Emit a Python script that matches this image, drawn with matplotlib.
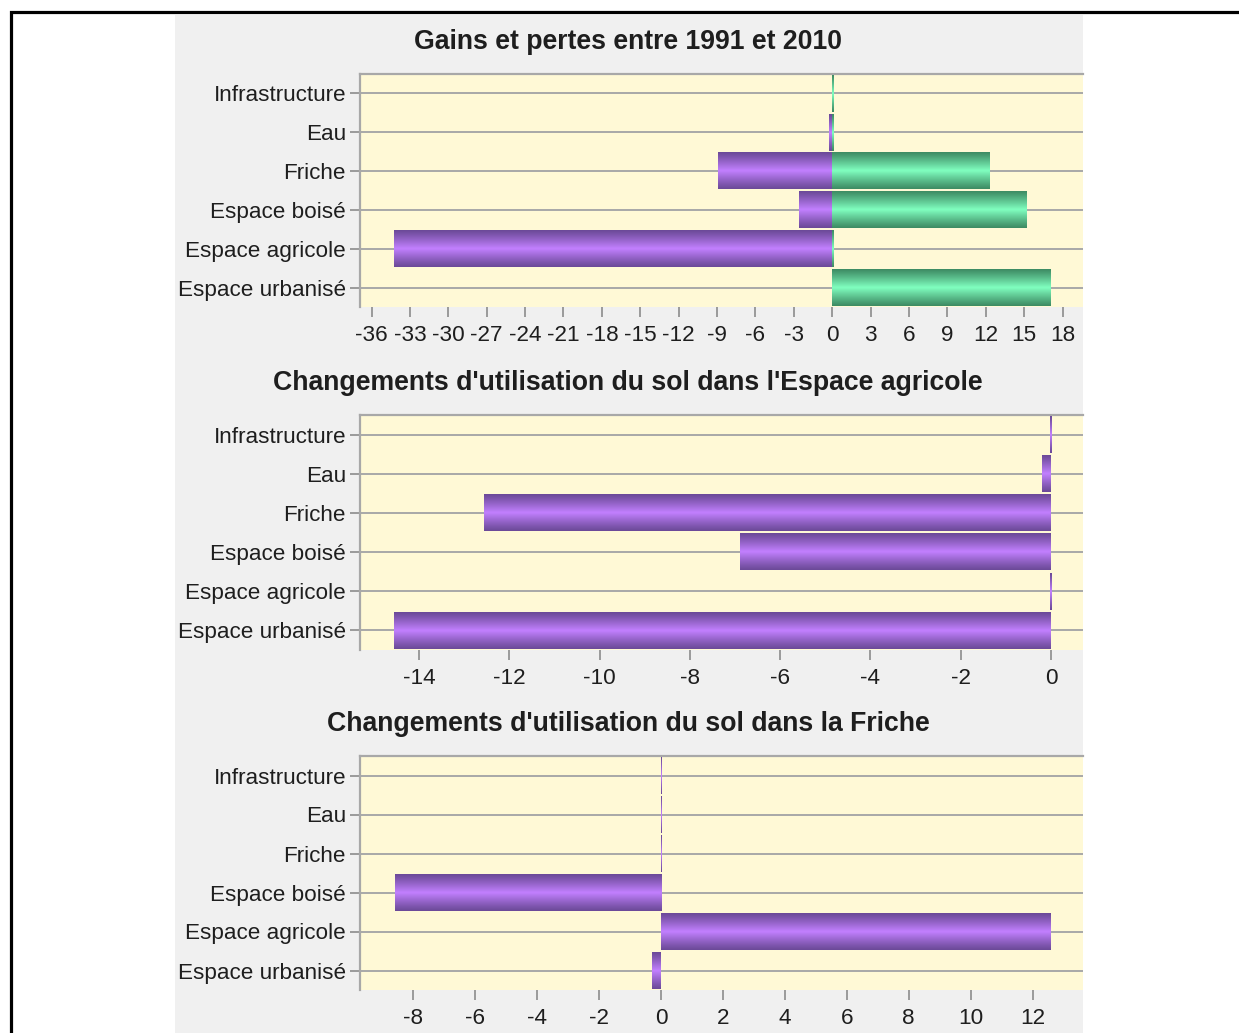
import numpy as np
import matplotlib
matplotlib.use("Agg")
import matplotlib.pyplot as plt
from matplotlib.patches import Rectangle

plt.rcParams['font.family'] = ['Liberation Sans', 'DejaVu Sans']

categories = ["Infrastructure", "Eau", "Friche", "Espace boisé",
              "Espace agricole", "Espace urbanisé"]

# Chart 1: gains and losses 1991-2010
gains_1991_2010 = [0.12, 0.08, 12.3, 15.2, 0.1, 17.1]
losses_1991_2010 = [0.0, -0.25, -8.9, -2.6, -34.25, -0.03]

# Chart 2: changes within Espace agricole
agricole_changes = [-0.03, -0.19, -12.56, -6.89, -0.03, -14.55]

# Chart 3: changes within Friche
friche_changes = [0.03, 0.03, 0.03, -8.6, 12.57, -0.28]

titles = ["Gains et pertes entre 1991 et 2010",
          "Changements d'utilisation du sol dans l'Espace agricole",
          "Changements d'utilisation du sol dans la Friche"]
xticks_list = [list(range(-36, 19, 3)), list(range(-14, 1, 2)), list(range(-8, 13, 2))]
xlims = [(-36.9, 19.6), (-15.31, 0.71), (-9.72, 13.63)]

W, H = 1239, 1033
fig = plt.figure(figsize=(W / 100, H / 100), dpi=100, facecolor='white')

# grey panel and black frame
fig.add_artist(Rectangle((175 / W, 0), (1083 - 175) / W, (H - 15) / H,
                         transform=fig.transFigure, facecolor='#f0f0f0',
                         edgecolor='none', zorder=-5))
fig.add_artist(Rectangle((10.5 / W, -0.2), 1.5, (H - 12) / H + 0.2,
                         transform=fig.transFigure, facecolor='none',
                         edgecolor='black', lw=2.3, zorder=-4))

PURPLE = (np.array([0x6c, 0x4a, 0x98]) / 255, np.array([0xc2, 0x80, 0xff]) / 255)
GREEN = (np.array([0x3e, 0x8c, 0x64]) / 255, np.array([0x80, 0xff, 0xc0]) / 255)


def gradient(cols, n=64):
    dark, bright = cols
    t = np.linspace(0, 1, n)
    f = (1 - np.abs(2 * t - 1)) ** 1.1
    g = dark[None, :] + (bright - dark)[None, :] * f[:, None]
    return g[:, None, :]


def draw_bars(ax, values, cols):
    y = np.arange(len(categories))
    bars = ax.barh(y, values, height=0.94, facecolor='none',
                   edgecolor='none', lw=0, zorder=4)
    img = gradient(cols)
    for p in bars.patches:
        x0, y0, w, h = p.get_x(), p.get_y(), p.get_width(), p.get_height()
        if w == 0:
            continue
        xa, xb = min(x0, x0 + w), max(x0, x0 + w)
        ax.imshow(img, extent=(xa, xb, y0 + h, y0), aspect='auto',
                  interpolation='bilinear', zorder=3)


axes_px = [(74, 307), (415, 650), (756, 990)]
title_y = [42, 383, 724]
datasets = [[(losses_1991_2010, PURPLE), (gains_1991_2010, GREEN)],
            [(agricole_changes, PURPLE)],
            [(friche_changes, PURPLE)]]

for i in range(3):
    top, bot = axes_px[i]
    ax = fig.add_axes([360 / W, 1 - bot / H, (1083 - 360) / W, (bot - top) / H])
    ax.set_facecolor('#fff9d6')
    y = np.arange(len(categories))
    for yy in y:
        ax.axhline(yy, color='#a8a8a8', lw=1.4, zorder=1)
    for vals, cols in datasets[i]:
        draw_bars(ax, vals, cols)
    ax.set_xlim(*xlims[i])
    ax.set_ylim(5.5, -0.5)
    ax.set_yticks(y)
    ax.set_yticklabels(categories)
    ax.set_xticks(xticks_list[i])
    ax.set_xticklabels([str(v) for v in xticks_list[i]])
    for s in ['right', 'bottom']:
        ax.spines[s].set_visible(False)
    for s in ['left', 'top']:
        ax.spines[s].set_color('#a8a8a8')
        ax.spines[s].set_linewidth(1.6)
    ax.tick_params(axis='both', colors='#8c8c8c', labelcolor='#1e1e1e',
                   labelsize=16.2, length=7, width=1.2)
    ax.tick_params(axis='y', pad=3)
    ax.tick_params(axis='x', pad=6)
    fig.text(628 / W, 1 - title_y[i] / H, titles[i], ha='center', va='center',
             fontsize=19.2, fontweight='bold', color='#1e1e1e')

fig.savefig('out.png', dpi=100, facecolor='white')
